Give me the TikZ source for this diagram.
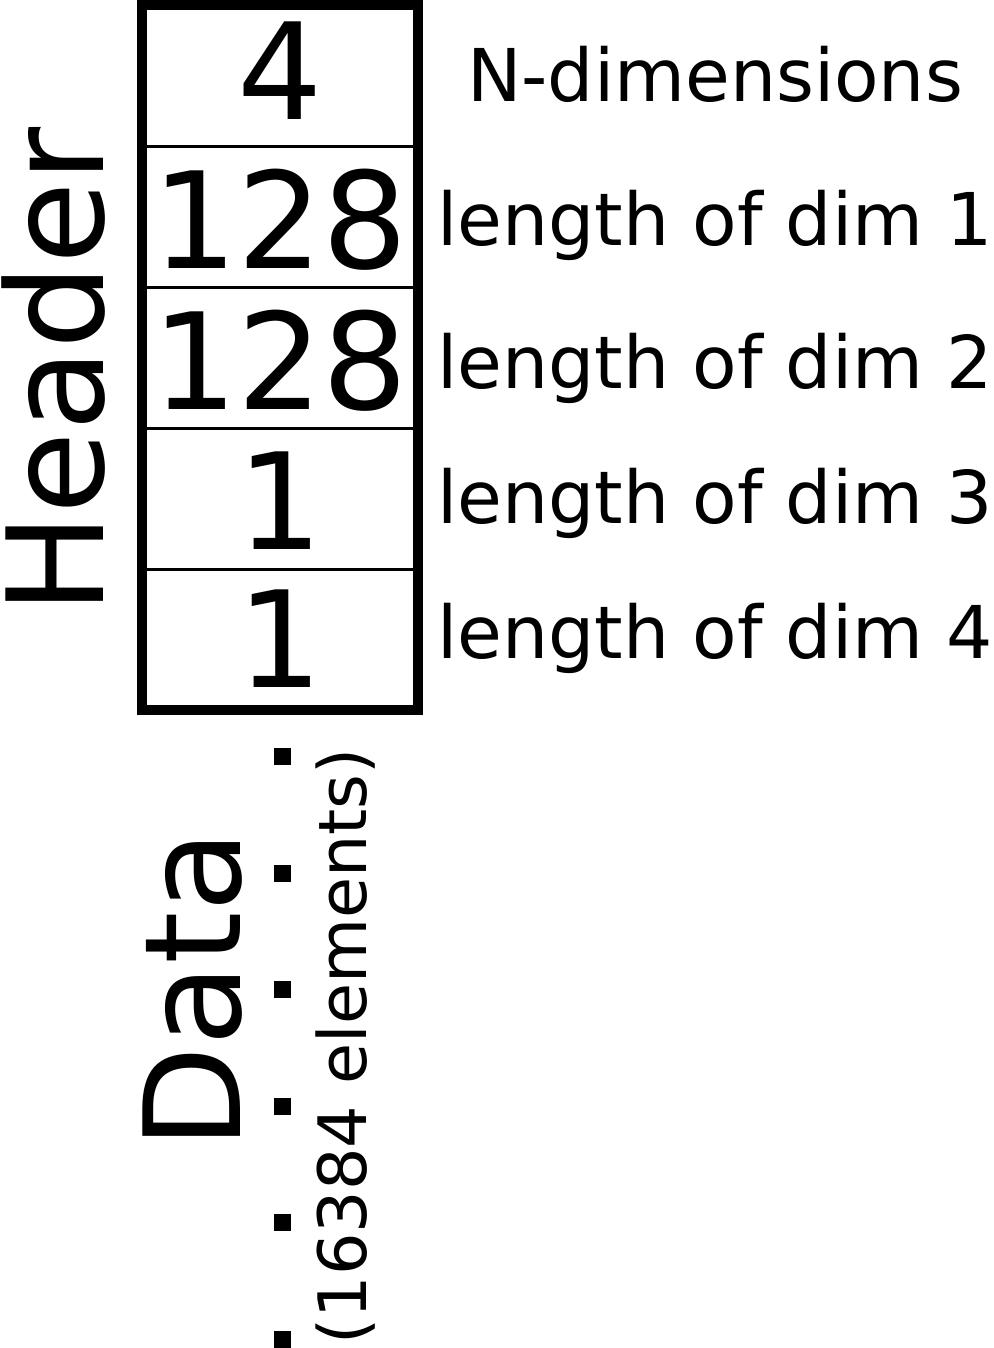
\documentclass[tikz,border=0pt]{standalone}
\usepackage{fontspec}
\setmainfont{DejaVu Sans}
\begin{document}
\begin{tikzpicture}[x=0.5pt,y=-0.5pt,
  big/.style={font=\fontsize{67}{67}\selectfont, inner sep=0pt, anchor=base},
  lab/.style={font=\fontsize{36.4}{36.4}\selectfont, inner sep=0pt, anchor=base},
  vbig/.style={font=\fontsize{67}{67}\selectfont, inner sep=0pt, anchor=base, rotate=90},
  vsmall/.style={font=\fontsize{33.4}{33.4}\selectfont, inner sep=0pt, anchor=base, rotate=90},
  datadot/.style={fill=black, draw=none, minimum size=8.5pt, inner sep=0pt}]
\useasboundingbox (0,0) rectangle (993,1348);
% outer box and dividers
\draw[line width=5pt] (142,5) rectangle (418,710);
\foreach \yy in {146.5,287.5,428.5,569.5}
  \draw[line width=1.5pt] (142,\yy) -- (418,\yy);
% cell values
\node[big] (c1) at (280,120) {4};
\node[big] (c2) at (280,268) {128};
\node[big] (c3) at (280,409) {128};
\node[big] (c4) at (280,549) {1};
\node[big] (c5) at (280,687) {1};
% labels
\node[lab] (l1) at (715,102) {N-dimensions};
\node[lab] (l2) at (715,246) {length of dim 1};
\node[lab] (l3) at (715,388) {length of dim 2};
\node[lab] (l4) at (715,523) {length of dim 3};
\node[lab] (l5) at (715,658) {length of dim 4};
% side titles
\node[vbig] (header) at (103,371) {Header};
\node[vbig] (data) at (240,990) {Data};
\node[vsmall] (elems) at (366,1046) {(16384 elements)};
% dots
\foreach \i/\yy in {1/756.5,2/873,3/989.5,4/1106,5/1222.5,6/1339.5}
  \node[datadot] (d\i) at (282.5,\yy) {};
\end{tikzpicture}
\end{document}
